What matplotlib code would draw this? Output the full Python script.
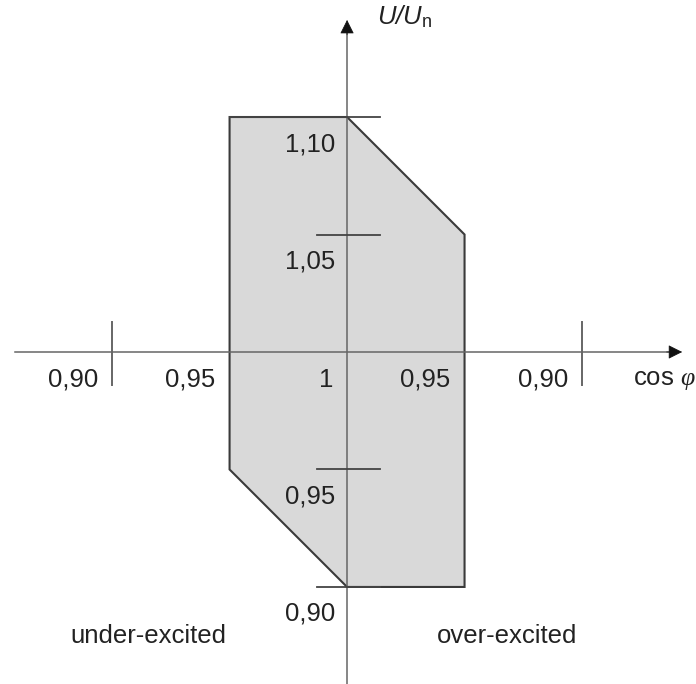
import matplotlib
matplotlib.use("Agg")
import matplotlib.pyplot as plt
from matplotlib.patches import Polygon

plt.rcParams['font.family'] = ['Liberation Sans', 'DejaVu Sans']
plt.rcParams['mathtext.fontset'] = 'custom'
plt.rcParams['mathtext.rm'] = 'Liberation Sans'
plt.rcParams['mathtext.sf'] = 'Liberation Sans:italic'
plt.rcParams['mathtext.it'] = 'Liberation Serif:italic'

# operating region: x = distance from cos phi = 1 (left = under-excited), y = U/Un
region_x = [-0.05, 0.0, 0.05, 0.05, 0.0, -0.05]
region_u = [1.10, 1.10, 1.05, 0.90, 0.90, 0.95]

x_ticks = [-0.10, -0.05, 0.0, 0.05, 0.10]
x_tick_labels = ['0,90', '0,95', '1', '0,95', '0,90']
y_ticks = [1.10, 1.05, 0.95, 0.90]
y_tick_labels = ['1,10', '1,05', '0,95', '0,90']

TXT = '#222222'
AXC = '#666666'
FS = 18.5

fig = plt.figure(figsize=(6.96, 6.84), dpi=100)
ax = fig.add_axes([0, 0, 1, 1])
ax.set_xlim(-0.1477, 0.1485)
ax.set_ylim(0.8587, 1.1498)
ax.axis('off')

# shaded region
ax.add_patch(Polygon(list(zip(region_x, region_u)), closed=True,
                     facecolor='#d9d9d9', edgecolor='#3a3a3a', lw=1.5,
                     joinstyle='miter', zorder=2))

# axes with arrow heads
ax.plot([-0.1413, 0.137], [1.0, 1.0], color=AXC, lw=1.1, zorder=3)
ax.plot([0.0, 0.0], [0.8587, 1.136], color=AXC, lw=1.1, zorder=3)
ax.annotate('', xy=(0.1426, 1.0), xytext=(0.136, 1.0),
            arrowprops=dict(arrowstyle='-|>', color='#111111', lw=0.5,
                            mutation_scale=22, shrinkA=0, shrinkB=0), zorder=4)
ax.annotate('', xy=(0.0, 1.1413), xytext=(0.0, 1.135),
            arrowprops=dict(arrowstyle='-|>', color='#111111', lw=0.5,
                            mutation_scale=22, shrinkA=0, shrinkB=0), zorder=4)

# tick marks on the voltage axis
for u in y_ticks:
    left = -0.05 if u == 1.10 else -0.0128
    ax.plot([left, 0.014], [u, u], color='#444444', lw=1.3, zorder=3)

# tick marks at cos phi = 0.90
for x in (-0.10, 0.10):
    ax.plot([x, x], [0.986, 1.0128], color=AXC, lw=1.4, zorder=3)

# tick labels
for x, lab in zip(x_ticks, x_tick_labels):
    ax.annotate(lab, xy=(x, 1.0), xytext=(-14, -28), textcoords='offset pixels',
                ha='right', va='center', fontsize=FS, color=TXT, zorder=5)
for u, lab in zip(y_ticks, y_tick_labels):
    ax.annotate(lab, xy=(0.0, u), xytext=(-12, -27), textcoords='offset pixels',
                ha='right', va='center', fontsize=FS, color=TXT, zorder=5)

# axis titles
ax.annotate(r'cos $\varphi$', xy=(0.1426, 1.0), xytext=(-49, -28),
            textcoords='offset pixels', ha='left', va='center',
            fontsize=FS, color=TXT)
ax.annotate(r'$\mathsf{U/U}_\mathrm{n}$', xy=(0.0, 1.1413), xytext=(30, 3),
            textcoords='offset pixels', ha='left', va='center',
            fontsize=FS, color=TXT)

ax.text(-0.0847, 0.8791, 'under-excited', ha='center', va='center',
        fontsize=FS, color=TXT)
ax.text(0.068, 0.8791, 'over-excited', ha='center', va='center',
        fontsize=FS, color=TXT)

fig.savefig('out.png', dpi=100)
